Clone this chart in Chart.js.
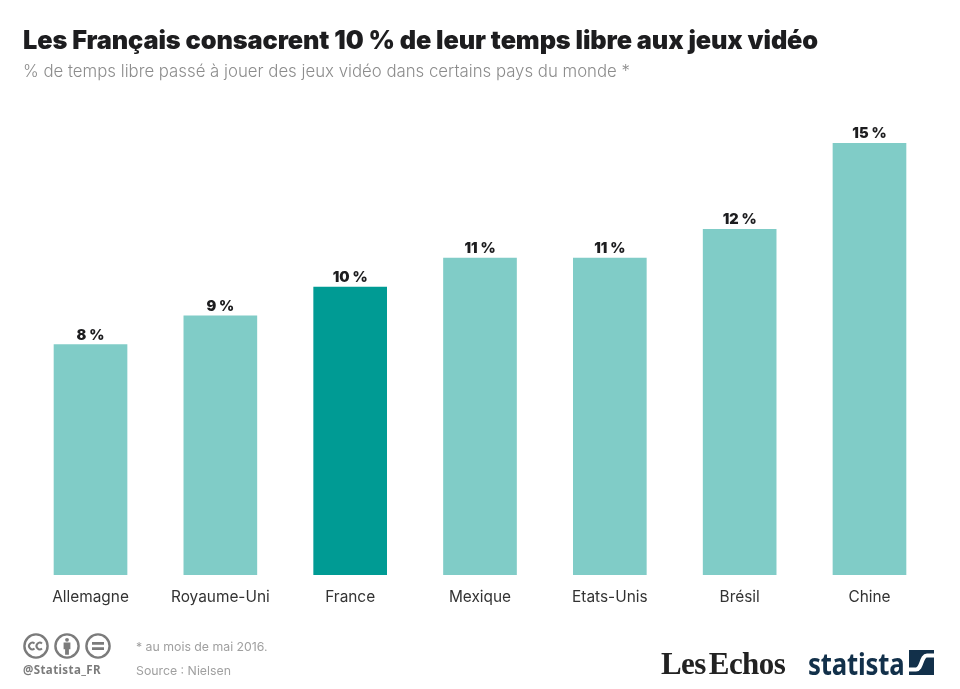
<!DOCTYPE html>
<html lang="fr">
<head>
<meta charset="utf-8">
<title>Les Français consacrent 10 % de leur temps libre aux jeux vidéo</title>
<script src="https://cdn.jsdelivr.net/npm/chart.js@4/dist/chart.umd.min.js"></script>
<style>
	html, body { margin: 0; padding: 0; background: #fff; }
	body { position: relative; width: 960px; height: 689px; overflow: hidden; font-family: Inter, sans-serif; }
	canvas { position: absolute; left: 0; top: 0; }
	.text { position: absolute; white-space: nowrap; }
	#title { left: 23px; top: 24px; font-size: 25.3px; line-height: 32px; font-weight: 900; color: #1d1d1f; letter-spacing: -0.1px; }
	#subtitle { left: 23px; top: 60px; font-size: 16.8px; line-height: 22px; font-weight: 300; color: #8c8c8c; }
	#note, #source { left: 136px; font-size: 12.3px; line-height: 16px; font-weight: 400; color: #a0a0a0; }
	#note { top: 639px; }
	#source { top: 663px; }
	#handle { left: 23px; top: 662px; font-family: "Noto Sans", sans-serif; font-size: 11.5px; line-height: 16px; font-weight: 700; color: #7b7b7b; letter-spacing: 0.4px; }
	#echos { left: 661px; top: 646px; font-family: "Liberation Serif", serif; font-size: 31px; line-height: 36px; font-weight: 700; color: #222; letter-spacing: -0.6px; word-spacing: -4px; }
	#statista { left: 808px; top: 643px; font-family: "Noto Sans", sans-serif; font-size: 31px; line-height: 40px; font-weight: 700; color: #12304a; letter-spacing: -0.2px; transform: scaleX(0.83); transform-origin: left top; }
	svg { position: absolute; }
</style>
</head>
<body>
<canvas id="chart" width="960" height="689"></canvas>
<div class="text" id="title">Les Français consacrent 10 % de leur temps libre aux jeux vidéo</div>
<div class="text" id="subtitle">% de temps libre passé à jouer des jeux vidéo dans certains pays du monde *</div>
<svg id="licence" style="left:22px;top:632px" width="92" height="28" viewBox="0 0 92 28" fill="none" stroke="#7b7b7b" stroke-width="2.4">
	<circle cx="14" cy="14" r="11.6"/>
	<circle cx="45" cy="14" r="11.6"/>
	<circle cx="76" cy="14" r="11.6"/>
	<path d="M12.5 11.5a3.3 3.3 0 1 0 0 5M20 11.5a3.3 3.3 0 1 0 0 5" stroke-width="2"/>
	<circle cx="45" cy="7.8" r="1.9" fill="#7b7b7b" stroke="none"/>
	<path d="M41.6 10.6h6.8v6.6h-1.500v5.600h-3.800v-5.600h-1.500z" fill="#7b7b7b" stroke="none"/>
	<path d="M70 11.4h12M70 16.6h12" stroke-width="2.6"/>
</svg>
<div class="text" id="handle">@Statista_FR</div>
<div class="text" id="note">* au mois de mai 2016.</div>
<div class="text" id="source">Source : Nielsen</div>
<div class="text" id="echos">Les Echos</div>
<div class="text" id="statista">statista</div>
<svg id="statistaMark" style="left:909px;top:650px" width="25" height="25" viewBox="0 0 25 25">
	<rect width="25" height="25" fill="#12304a"/>
	<path d="M25 5.500H18C12 5.500 13 19.500 7 19.500H0" fill="none" stroke="#fff" stroke-width="4"/>
</svg>
<script>
const countries = [
	{ name: 'Allemagne', share: 8 },
	{ name: 'Royaume-Uni', share: 9 },
	{ name: 'France', share: 10 },
	{ name: 'Mexique', share: 11 },
	{ name: 'Etats-Unis', share: 11 },
	{ name: 'Brésil', share: 12 },
	{ name: 'Chine', share: 15 }
];

const barLabels = {
	id: 'barLabels',
	afterDatasetsDraw(chart){
		let ctx = chart.ctx;
		let points = chart.getDatasetMeta(0).data;
		ctx.save();
		ctx.font = '900 14.5px Inter, sans-serif';
		ctx.fillStyle = '#1d1d1f';
		ctx.textAlign = 'center';
		ctx.textBaseline = 'alphabetic';
		points.forEach((bar, i) => {
			ctx.fillText(countries[i].share + ' %', bar.x, bar.y - 5);
		});
		ctx.restore();
	}
};

new Chart(document.getElementById('chart'), {
	type: 'bar',
	plugins: [barLabels],
	data: {
		labels: countries.map(c => c.name),
		datasets: [{
			data: countries.map(c => c.share),
			backgroundColor: countries.map(c => c.name === 'France' ? '#009b94' : '#80ccc7'),
			barThickness: 73,
			borderWidth: 0
		}]
	},
	options: {
		responsive: false,
		animation: false,
		layout: {
			padding: { top: 143, left: 25.6, right: 25.6, bottom: 74 }
		},
		plugins: {
			legend: { display: false },
			tooltip: { enabled: false },
			title: { display: false }
		},
		scales: {
			x: {
				afterFit(scale){ scale.height = 40; },
				grid: { display: false },
				border: { display: false },
				ticks: {
					padding: 5,
					maxRotation: 0,
					color: '#333',
					font: { family: 'Inter, sans-serif', size: 15.4, weight: '400' }
				}
			},
			y: {
				display: false,
				min: 0,
				max: 15
			}
		}
	}
});
</script>
</body>
</html>
